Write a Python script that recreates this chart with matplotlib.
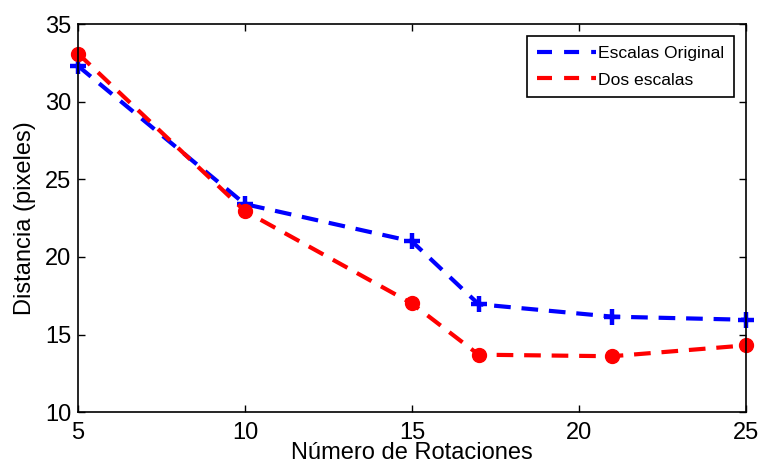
import matplotlib
matplotlib.use("Agg")
import matplotlib.pyplot as plt
from matplotlib.lines import Line2D

plt.rcParams["font.family"] = ["Liberation Sans", "DejaVu Sans"]

rotaciones = [5, 10, 15, 17, 21, 25]
escalas_original = [32.3, 23.4, 21.0, 16.95, 16.15, 15.95]
dos_escalas = [33.1, 22.95, 17.0, 13.7, 13.6, 14.3]

fig = plt.figure(figsize=(7.61, 4.71), dpi=100)
ax = fig.add_axes([0.1025, 0.125, 0.8775, 0.824])

ax.plot(rotaciones, escalas_original, color="#0000ff", linestyle=(0, (4, 2.6)),
        linewidth=3, marker="+", markersize=12, markeredgewidth=3.2, clip_on=False)
ax.plot(rotaciones, dos_escalas, color="#ff0000", linestyle=(0, (4, 2.6)),
        linewidth=3, marker="o", markersize=10, clip_on=False)

ax.set_xlim(5, 25)
ax.set_ylim(10, 35)
ax.set_xticks([5, 10, 15, 20, 25])
ax.set_yticks([10, 15, 20, 25, 30, 35])
ax.tick_params(direction="in", top=True, right=True, labelsize=17, length=5,
               width=1, pad=5)
ax.tick_params(axis="x", pad=7)
for s in ax.spines.values():
    s.set_linewidth(1.2)

ax.set_xlabel("Número de Rotaciones", fontsize=17, labelpad=-1)
ax.set_ylabel("Distancia (pixeles)", fontsize=17, labelpad=6)

handles = [
    Line2D([0], [0], color="#0000ff", linestyle=(0, (3.6, 2.9)), linewidth=3),
    Line2D([0], [0], color="#ff0000", linestyle=(0, (3.6, 2.9)), linewidth=3),
]
leg = ax.legend(handles, ["Escalas Original", "Dos escalas"], loc="upper right",
                bbox_to_anchor=(0.982, 0.969), borderaxespad=0, fontsize=12.6,
                fancybox=False, edgecolor="black", framealpha=1, handlelength=3.4,
                handletextpad=0.1, borderpad=0.55, labelspacing=0.65)
leg.get_frame().set_linewidth(1.2)

fig.savefig("out.png", dpi=100)
